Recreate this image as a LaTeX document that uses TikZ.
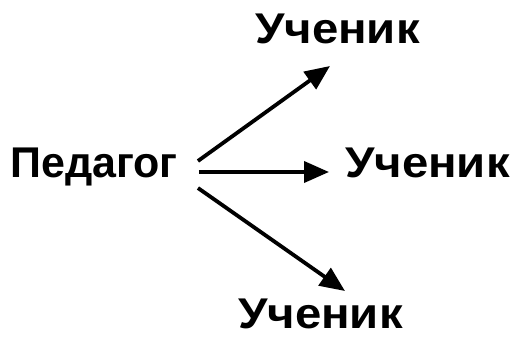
\documentclass[tikz,border=0pt]{standalone}
\usepackage{fontspec}
\setmainfont{Liberation Sans}
\usepackage{tikz}
\usetikzlibrary{arrows.meta}

\begin{document}
\begin{tikzpicture}[x=1pt, y=1pt,
    every node/.style={font=\fontsize{43}{50}\selectfont\bfseries, inner sep=0pt, anchor=base west},
    pupil/.style={xscale=1.1},
    arr/.style={line width=3.8pt, -{Triangle[length=25pt, width=21pt]}}]

    \useasboundingbox (0, 0) rectangle (516, 337);

    % Teacher and pupils
    \node (ped) at (10, 159) {Педагог};
    \node[pupil] (uch1) at (255, 293) {Ученик};
    \node[pupil] (uch2) at (345, 159) {Ученик};
    \node[pupil] (uch3) at (238, 9) {Ученик};

    % Arrow ends
    \coordinate (t1) at (330, 271);  % under top pupil
    \coordinate (t2) at (329, 165);  % left of middle pupil
    \coordinate (t3) at (345, 46);   % above bottom pupil

    % Draw arrows
    \draw[arr] ([shift={(20, 17)}]ped.base east) -- (t1);
    \draw[arr] ([shift={(21, 6)}]ped.base east) -- (t2);
    \draw[arr] ([shift={(20, -10)}]ped.base east) -- (t3);

\end{tikzpicture}
\end{document}
